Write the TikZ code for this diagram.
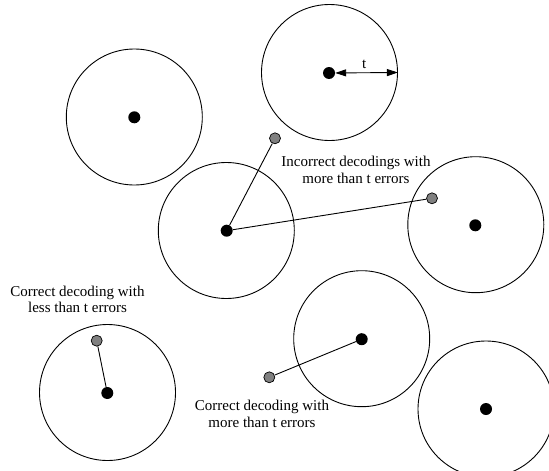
\documentclass[tikz,border=0pt]{standalone}
\usepackage{fontspec}
\setmainfont{Liberation Serif}
\usetikzlibrary{arrows.meta}
\begin{document}
\begin{tikzpicture}[x=1pt,y=-1pt,
  ball/.style={circle,draw=black,line width=0.9pt,minimum size=136pt,inner sep=0pt},
  bdot/.style={circle,fill=black,minimum size=12pt,inner sep=0pt},
  gdot/.style={circle,fill=gray,draw=black,line width=0.7pt,minimum size=11pt,inner sep=0pt},
  conn/.style={line width=0.9pt},
  lbl/.style={align=center,font=\fontsize{15}{16.7}\selectfont,inner sep=0pt}]
\useasboundingbox (0,0) rectangle (549,471);
% balls
\node[ball] (c1) at (134.3,117) {};
\node[ball] (c2) at (329.5,72.5) {};
\node[ball] (c3) at (226.3,230.5) {};
\node[ball] (c4) at (475.8,224.7) {};
\node[ball] (c5) at (361.7,338.7) {};
\node[ball] (c6) at (107.5,392.5) {};
\node[ball] (c7) at (486,409) {};
% codeword dots
\node[bdot] (d1) at (134.3,117.3) {};
\node[bdot] (d2) at (329,73) {};
\node[bdot] (d3) at (226.7,230.7) {};
\node[bdot] (d4) at (475.3,225.3) {};
\node[bdot] (d5) at (361.7,339.2) {};
\node[bdot] (d6) at (107.3,393) {};
\node[bdot] (d7) at (486,409) {};
% received words
\node[gdot] (g1) at (275,138.3) {};
\node[gdot] (g2) at (432,198.3) {};
\node[gdot] (g3) at (96.7,340.7) {};
\node[gdot] (g4) at (269.3,377.3) {};
% connectors
\draw[conn] (d3) -- (g1);
\draw[conn] (d3) -- (g2);
\draw[conn] (d6) -- (g3);
\draw[conn] (d5) -- (g4);
% radius arrow
\draw[conn,{Triangle[length=11pt,width=7pt]}-{Triangle[length=11pt,width=7pt]}] (d2) -- (c2.east);
\node[lbl] (t) at (364.3,64) {t};
% labels
\node[lbl] (l1) at (356,170) {Incorrect decodings with\\more than t errors};
\node[lbl] (l2) at (77.5,299.5) {Correct decoding with\\less than t errors};
\node[lbl] (l3) at (262,414) {Correct decoding with\\more than t errors};
\end{tikzpicture}
\end{document}
